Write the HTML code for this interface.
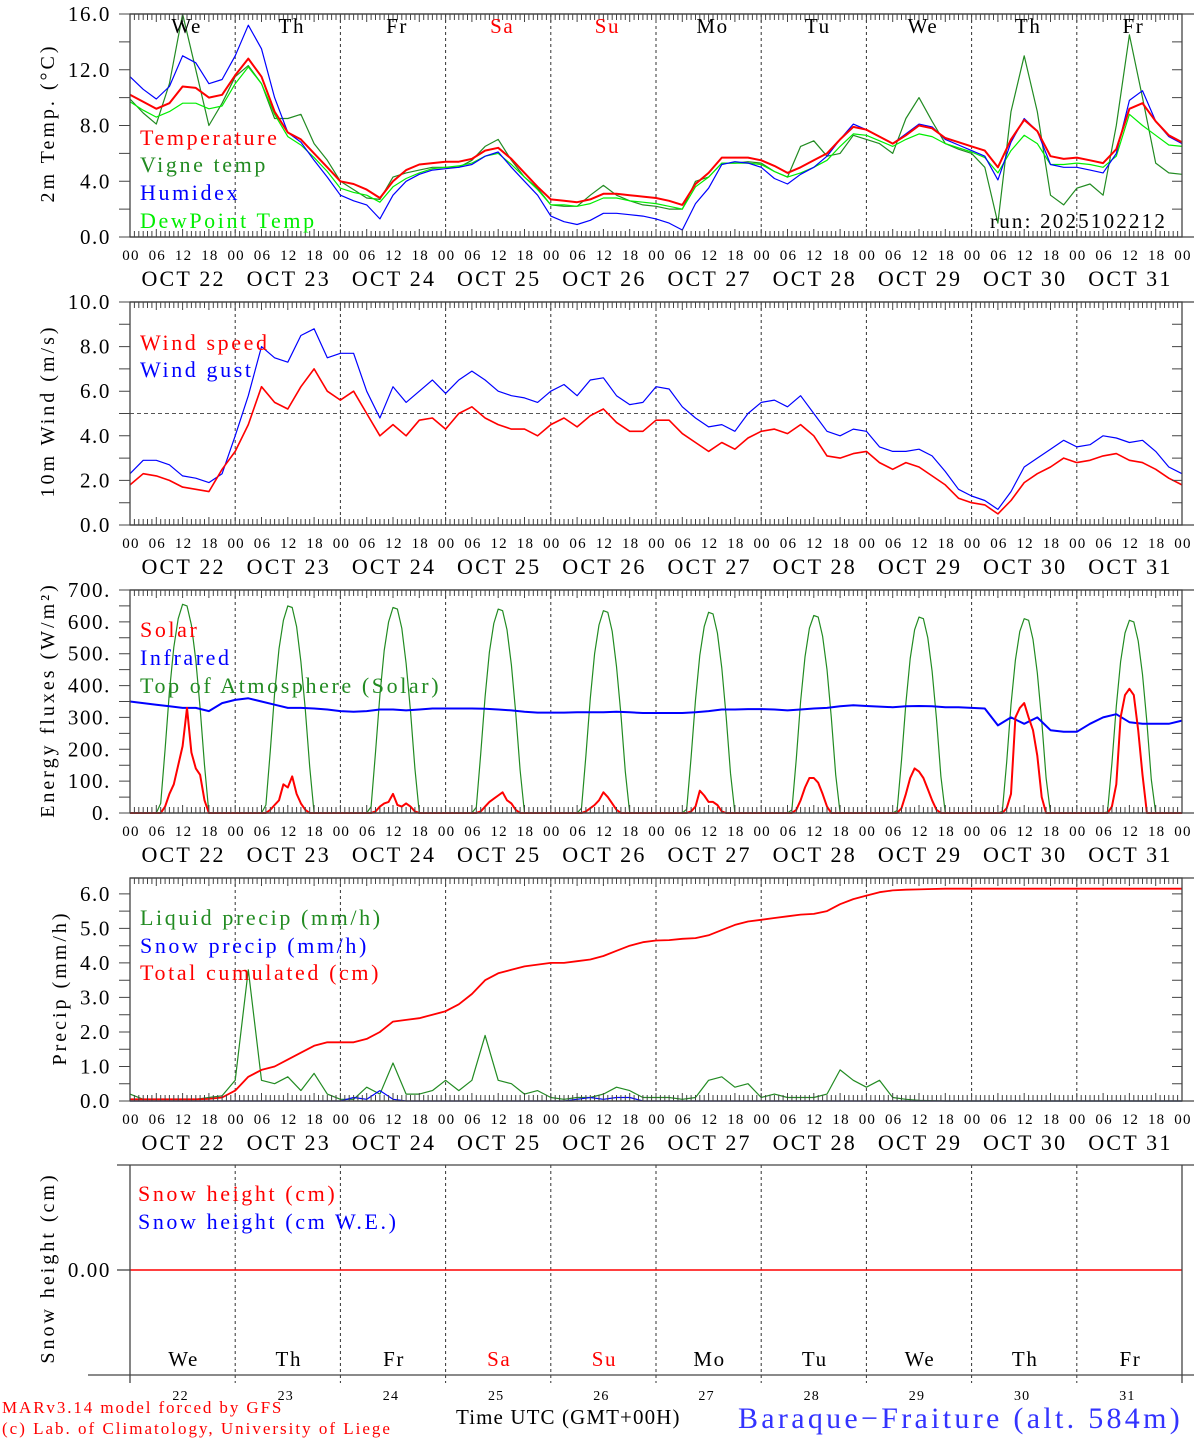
<!DOCTYPE html>
<html><head><meta charset="utf-8">
<style>
html,body{margin:0;padding:0;background:#fff;}
svg{display:block;font-family:"Liberation Serif","DejaVu Serif",serif;}
.lg{letter-spacing:2.6px;font-size:22px;}
.yt{letter-spacing:3px;font-size:20px;}
.tk{letter-spacing:1.6px;font-size:21px;}
.hr{letter-spacing:1.2px;}
.dt{letter-spacing:2.2px;font-size:22px;}
</style></head>
<body>
<svg id="chart" width="1194" height="1440" viewBox="0 0 1194 1440" xmlns="http://www.w3.org/2000/svg">
<g id="layer-grid"></g>
<g id="layer-data"></g>
<g id="layer-axes"></g>
<g id="layer-text">
  <text class="lg" x="140" y="145" fill="#ff0000">Temperature</text>
  <text class="lg" x="140" y="172" fill="#228b22">Vigne temp</text>
  <text class="lg" x="140" y="200" fill="#0000ff">Humidex</text>
  <text class="lg" x="140" y="228" fill="#00ee00">DewPoint Temp</text>
  <text x="990" y="228" font-size="21" fill="#000" style="letter-spacing:2.2px">run: 2025102212</text>
  <text class="lg" x="140" y="350" fill="#ff0000">Wind speed</text>
  <text class="lg" x="140" y="377" fill="#0000ff">Wind gust</text>
  <text class="lg" x="140" y="637" fill="#ff0000">Solar</text>
  <text class="lg" x="140" y="665" fill="#0000ff">Infrared</text>
  <text class="lg" x="140" y="693" fill="#228b22">Top of Atmosphere (Solar)</text>
  <text class="lg" x="140" y="925" fill="#228b22">Liquid precip (mm/h)</text>
  <text class="lg" x="140" y="953" fill="#0000ff">Snow precip (mm/h)</text>
  <text class="lg" x="140" y="980" fill="#ff0000">Total cumulated (cm)</text>
  <text class="lg" x="138" y="1201" fill="#ff0000">Snow height (cm)</text>
  <text class="lg" x="138" y="1229" fill="#0000ff">Snow height (cm W.E.)</text>
  <text class="yt" transform="translate(54,123) rotate(-90)" text-anchor="middle">2m Temp. (°C)</text>
  <text class="yt" transform="translate(54,411) rotate(-90)" text-anchor="middle">10m Wind (m/s)</text>
  <text class="yt" transform="translate(54,700) rotate(-90)" text-anchor="middle">Energy fluxes (W/m²)</text>
  <text class="yt" transform="translate(66,988) rotate(-90)" text-anchor="middle">Precip (mm/h)</text>
  <text class="yt" transform="translate(54,1268) rotate(-90)" text-anchor="middle">Snow height (cm)</text>
  <text x="2" y="1413" font-size="17" fill="#ff0000" style="letter-spacing:1.9px">MARv3.14 model forced by GFS</text>
  <text x="2" y="1434" font-size="17" fill="#ff0000" style="letter-spacing:2px">(c) Lab. of Climatology, University of Liege</text>
  <text x="456" y="1424" font-size="21" fill="#000" style="letter-spacing:1.1px">Time UTC (GMT+00H)</text>
  <text x="738" y="1428" font-size="30" fill="#3333ff" style="letter-spacing:3.3px">Baraque−Fraiture (alt. 584m)</text>
</g>
<script>
// ---- data (3-hourly from Oct 22 00 UTC, 81 points) ----
const dayNames = ["We","Th","Fr","Sa","Su","Mo","Tu","We","Th","Fr"];
const dayNums = ["22","23","24","25","26","27","28","29","30","31"];
const dateLabels = ["OCT 22","OCT 23","OCT 24","OCT 25","OCT 26","OCT 27","OCT 28","OCT 29","OCT 30","OCT 31"];
const hourLabels = ["00","06","12","18"];
const tempTicks = [0,4,8,12,16];
const windTicks = [0,2,4,6,8,10];
const fluxTicks = [0,100,200,300,400,500,600,700];
const precipTicks = [0,1,2,3,4,5,6];

const temperature = [10.2,9.7,9.2,9.6,10.8,10.7,10.0,10.2, 11.6,12.8,11.5,9.0,7.5,7.0,6.0,5.0, 4.0,3.8,3.4,2.8,4.0,4.8,5.2,5.3, 5.4,5.4,5.6,6.2,6.4,5.6,4.6,3.6, 2.7,2.6,2.5,2.7,3.1,3.1,3.0,2.9, 2.8,2.6,2.3,3.8,4.6,5.7,5.7,5.7, 5.5,5.1,4.6,5.0,5.5,6.0,7.0,7.9, 7.7,7.2,6.7,7.3,8.0,7.8,7.1,6.8, 6.5,6.2,5.0,7.0,8.4,7.6,5.8,5.6, 5.7,5.5,5.3,6.3,9.2,9.6,8.3,7.3,6.8];
const humidex = [11.5,10.6,9.9,10.8,13.0,12.5,11.0,11.3, 13.0,15.2,13.5,10.0,7.5,6.8,5.5,4.3, 3.0,2.6,2.3,1.3,3.0,4.0,4.5,4.8, 4.9,5.0,5.2,5.8,6.1,5.0,4.0,3.0, 1.5,1.1,0.9,1.2,1.7,1.7,1.6,1.5, 1.3,1.0,0.5,2.4,3.5,5.2,5.4,5.3, 5.0,4.2,3.8,4.5,5.0,5.8,7.0,8.1, 7.7,7.2,6.7,7.4,8.1,7.9,7.0,6.6, 6.2,5.8,4.1,6.8,8.5,7.6,5.2,5.0, 5.0,4.8,4.6,6.0,9.8,10.5,8.3,7.2,6.7];
const vigne = [9.9,8.9,8.1,11.0,16.0,12.0,8.0,9.6, 11.5,12.3,11.0,8.5,8.5,8.8,6.7,5.5, 4.0,3.4,2.8,2.7,4.3,4.6,4.8,5.0, 5.0,5.0,5.5,6.5,7.0,5.5,4.3,3.5, 2.3,2.2,2.2,3.0,3.7,3.0,2.6,2.3, 2.2,2.0,2.0,4.0,4.3,5.3,5.3,5.4, 5.3,4.7,4.3,6.5,6.9,5.8,6.0,7.3, 7.0,6.7,6.0,8.5,10.0,8.3,6.7,6.3, 6.0,5.0,1.0,9.0,13.0,9.0,3.0,2.3, 3.5,3.8,3.0,8.0,14.5,10.0,5.3,4.6,4.5];
const dewpoint = [9.7,9.1,8.6,9.0,9.6,9.6,9.2,9.4, 11.0,12.2,11.0,8.8,7.2,6.6,5.7,4.7, 3.5,3.2,3.0,2.5,3.6,4.2,4.6,4.9, 5.0,5.1,5.3,5.8,6.0,5.2,4.3,3.4, 2.3,2.3,2.2,2.4,2.8,2.8,2.6,2.5, 2.4,2.2,2.0,3.6,4.3,5.3,5.3,5.3, 5.2,4.7,4.3,4.6,5.0,5.5,6.5,7.4, 7.3,6.9,6.5,7.0,7.4,7.2,6.7,6.4, 6.1,5.7,4.6,6.2,7.3,6.7,5.2,5.2, 5.3,5.2,5.0,5.8,8.8,8.0,7.3,6.6,6.5];

const windSpeed = [1.8,2.3,2.2,2.0,1.7,1.6,1.5,2.5, 3.3,4.5,6.2,5.5,5.2,6.2,7.0,6.0, 5.6,6.0,5.0,4.0,4.5,4.0,4.7,4.8, 4.3,5.0,5.3,4.8,4.5,4.3,4.3,4.0, 4.5,4.8,4.4,4.9,5.2,4.6,4.2,4.2, 4.7,4.7,4.1,3.7,3.3,3.7,3.4,3.9, 4.2,4.3,4.1,4.5,4.0,3.1,3.0,3.2, 3.3,2.8,2.5,2.8,2.6,2.2,1.8,1.2, 1.0,0.9,0.5,1.1,1.9,2.3,2.6,3.0, 2.8,2.9,3.1,3.2,2.9,2.8,2.5,2.1,1.8];
const windGust = [2.3,2.9,2.9,2.7,2.2,2.1,1.9,2.3, 4.0,5.8,8.0,7.5,7.3,8.5,8.8,7.5, 7.7,7.7,6.0,4.8,6.2,5.5,6.0,6.5, 5.9,6.5,6.9,6.5,6.0,5.8,5.7,5.5, 6.0,6.3,5.8,6.5,6.6,5.8,5.4,5.5, 6.2,6.1,5.3,4.8,4.4,4.5,4.2,5.0, 5.5,5.6,5.3,5.8,5.0,4.2,4.0,4.3, 4.2,3.5,3.3,3.3,3.4,3.1,2.4,1.6, 1.3,1.1,0.7,1.5,2.6,3.0,3.4,3.8, 3.5,3.6,4.0,3.9,3.7,3.8,3.3,2.6,2.3];
const windRef = 5.0;

const infrared = [350,345,340,335,330,330,320,345, 355,360,350,340,330,330,328,325, 320,318,320,325,325,322,325,328, 328,328,328,327,325,322,318,315, 315,315,316,316,316,318,316,314, 314,314,314,316,320,325,325,326, 326,325,322,325,328,330,335,338, 336,334,332,335,336,335,332,332, 330,328,275,300,280,300,260,255, 255,280,300,310,285,280,280,280,290];
const daylightHours = [6,7,8,9,10,11,12,13,14,15,16,17,18];
const toa = [
 [0,30,200,380,520,610,655,650,590,480,330,150,0],
 [0,25,195,375,515,605,650,645,585,475,325,145,0],
 [0,20,190,370,510,600,645,640,580,470,320,140,0],
 [0,18,185,365,505,595,640,635,575,465,315,135,0],
 [0,15,180,360,500,590,635,630,570,460,310,130,0],
 [0,12,175,355,495,585,630,625,565,455,305,125,0],
 [0,10,170,350,490,580,620,615,555,450,300,120,0],
 [0,8,165,345,485,575,615,610,550,445,295,115,0],
 [0,5,160,340,480,570,610,605,545,440,290,110,0],
 [0,3,155,335,475,565,605,600,540,435,285,105,0]];
const solar = [
 [0,0,20,60,90,150,210,330,190,140,120,40,0],
 [0,0,10,25,40,90,80,115,60,30,10,0,0],
 [0,0,5,20,30,35,60,25,20,30,20,5,0],
 [0,0,5,20,35,45,55,65,40,30,10,0,0],
 [0,0,5,15,25,40,65,50,30,10,0,0,0],
 [0,0,5,20,70,55,35,35,25,5,0,0,0],
 [0,0,10,40,80,110,110,95,60,20,0,0,0],
 [0,0,15,60,110,140,130,110,75,40,10,0,0],
 [0,0,15,60,300,330,345,300,260,180,50,0,0],
 [0,0,20,90,300,370,390,370,260,120,0,0,0]];

const liquidPrecip = [0.2,0.05,0.05,0.05,0.05,0.05,0.1,0.15, 0.6,3.8,0.6,0.5,0.7,0.3,0.8,0.2, 0.05,0.05,0.4,0.2,1.1,0.2,0.2,0.3, 0.6,0.3,0.6,1.9,0.6,0.5,0.2,0.3, 0.1,0.05,0.1,0.1,0.2,0.4,0.3,0.1, 0.1,0.1,0.05,0.1,0.6,0.7,0.4,0.5, 0.1,0.2,0.1,0.1,0.1,0.2,0.9,0.6, 0.4,0.6,0.1,0.05,0.02,0.01,0,0, 0,0,0,0,0,0,0,0, 0,0,0,0,0,0,0,0,0];
const snowPrecip = [0,0,0,0,0,0,0,0, 0,0,0,0,0,0,0,0, 0,0.1,0.05,0.3,0.05,0,0,0, 0,0,0,0,0,0,0,0, 0,0,0.05,0.1,0.05,0.1,0.1,0, 0,0,0,0,0,0,0,0, 0,0,0,0,0,0,0,0, 0,0,0,0,0,0,0,0, 0,0,0,0,0,0,0,0, 0,0,0,0,0,0,0,0,0];
const cumPrecip = [0.05,0.05,0.05,0.05,0.05,0.05,0.06,0.1, 0.3,0.7,0.9,1.0,1.2,1.4,1.6,1.7, 1.7,1.7,1.8,2.0,2.3,2.35,2.4,2.5, 2.6,2.8,3.1,3.5,3.7,3.8,3.9,3.95, 4.0,4.0,4.05,4.1,4.2,4.35,4.5,4.6, 4.65,4.66,4.7,4.72,4.8,4.95,5.1,5.2, 5.25,5.3,5.35,5.4,5.42,5.5,5.7,5.85, 5.95,6.05,6.1,6.12,6.13,6.14,6.15,6.15, 6.15,6.15,6.15,6.15,6.15,6.15,6.15,6.15, 6.15,6.15,6.15,6.15,6.15,6.15,6.15,6.15,6.15];
const snowHeight = [0,0];

// ---- geometry ----
const NS="http://www.w3.org/2000/svg";
const X0=130, X1=1182, HOURS=240;
const gGrid=document.getElementById('layer-grid');
const gData=document.getElementById('layer-data');
const gAxes=document.getElementById('layer-axes');
function xh(h){return X0+(X1-X0)*h/HOURS;}
function mk(tag,attrs,parent){const e=document.createElementNS(NS,tag);for(const k in attrs)e.setAttribute(k,attrs[k]);parent.appendChild(e);return e;}
function yScale(p){return v=>p.bottom-(v-p.min)/(p.max-p.min)*(p.bottom-p.top);}

const panels=[
 {id:'temp',top:14,bottom:237,min:0,max:16,ticks:tempTicks,minor:2,fmt:v=>v.toFixed(1)},
 {id:'wind',top:302,bottom:525,min:0,max:10,ticks:windTicks,minor:1,fmt:v=>v.toFixed(1)},
 {id:'flux',top:590,bottom:813,min:0,max:700,ticks:fluxTicks,minor:50,fmt:v=>v+'.'},
 {id:'precip',top:878,bottom:1101,min:0,max:6.46,ticks:precipTicks,minor:0.5,fmt:v=>v.toFixed(1)}
];

function frame(p){
  const y=yScale(p);
  for(let d=1;d<10;d++){
    const l=mk('line',{x1:xh(d*24),x2:xh(d*24),y1:p.top,y2:p.bottom,stroke:'#333','stroke-width':1,'stroke-dasharray':'3,3'},gGrid);
    
    
  }
  mk('rect',{x:X0,y:p.top,width:X1-X0,height:p.bottom-p.top,fill:'none',stroke:'#444','stroke-width':1.3},gAxes);
  mk('line',{x1:X0,x2:1194,y1:p.top,y2:p.top,stroke:'#444','stroke-width':1.3},gAxes);
  mk('line',{x1:X0,x2:1194,y1:p.bottom,y2:p.bottom,stroke:'#444','stroke-width':1.3},gAxes);
  let path='';
  for(let h=0;h<=HOURS;h++){
    const len=(h%6===0)?8:6;const x=xh(h).toFixed(1);
    path+=`M${x},${p.top}v${len}M${x},${p.bottom}v${-len}`;
  }
  for(let v=p.min;v<=p.max+1e-6;v+=p.minor){
    const yy=y(v).toFixed(1);
    path+=`M${X0-11},${yy}h11M${X1},${yy}h-10`;
  }
  mk('path',{d:path,stroke:'#444','stroke-width':1,fill:'none'},gAxes);
  p.ticks.forEach(v=>{
    const t=mk('text',{x:111,y:y(v)+7,'text-anchor':'end','class':'tk'},gAxes);
    t.textContent=p.fmt(v);
    
    
  });
  for(let d=0;d<=10;d++){
    hourLabels.forEach((lab,i)=>{
      if(d===10&&i>0)return;
      const t=mk('text',{x:xh(d*24+i*6)+1,y:p.bottom+23,'text-anchor':'middle','font-size':15,'class':'hr'},gAxes);
      t.textContent=lab;
      
      
    });
    if(d<10){
      const t=mk('text',{x:xh(d*24+12)+1,y:p.bottom+49,'text-anchor':'middle','class':'dt'},gAxes);
      t.textContent=dateLabels[d];
      
      
    }
  }
  return y;
}
function line(arr,y,color,w,name,step){
  const s=step||3;
  const d=arr.map((v,i)=>(i?'L':'M')+xh(i*s).toFixed(1)+','+y(v).toFixed(1)).join('');
  const e=mk('path',{d:d,fill:'none',stroke:color,'stroke-width':w,'stroke-linejoin':'round'},gData);
  
  
}
function daily(arr2,y,color,w,name){
  let d=`M${xh(0)},${y(0)}`;
  arr2.forEach((vals,day)=>{
    daylightHours.forEach((h,i)=>{d+=`L${xh(day*24+h).toFixed(1)},${y(vals[i]).toFixed(1)}`;});
  });
  d+=`L${xh(HOURS)},${y(0)}`;
  const e=mk('path',{d:d,fill:'none',stroke:color,'stroke-width':w,'stroke-linejoin':'round'},gData);
  
  
}

let y1=frame(panels[0]);
line(vigne,y1,'#228b22',1.2,'vigne-temp-line');
line(dewpoint,y1,'#00ee00',1.2,'dewpoint-line');
line(humidex,y1,'#0000ff',1.2,'humidex-line');
line(temperature,y1,'#ff0000',2,'temperature-line');
dayNames.forEach((n,d)=>{
  const t=mk('text',{x:xh(d*24+12)+4,y:33,'text-anchor':'middle','class':'tk',fill:(n==='Sa'||n==='Su')?'#ff0000':'#000'},gAxes);
  t.textContent=n;
  
  
});
let y2=frame(panels[1]);
let ref=mk('line',{x1:X0,x2:X1,y1:y2(windRef),y2:y2(windRef),stroke:'#555','stroke-width':1,'stroke-dasharray':'4,3'},gGrid);


line(windGust,y2,'#0000ff',1.2,'wind-gust-line');
line(windSpeed,y2,'#ff0000',1.6,'wind-speed-line');
let y3=frame(panels[2]);
daily(toa,y3,'#228b22',1.2,'toa-solar-line');
line(infrared,y3,'#0000ff',2,'infrared-line');
daily(solar,y3,'#ff0000',2,'solar-line');
let y4=frame(panels[3]);
line(liquidPrecip,y4,'#228b22',1.2,'liquid-precip-line');
line(snowPrecip,y4,'#0000ff',1.2,'snow-precip-line');
line(cumPrecip,y4,'#ff0000',1.8,'cumulated-precip-line');
const p5={top:1165,bottom:1375,min:-1,max:1};
const y5=yScale(p5);
for(let d=1;d<10;d++){
  const l=mk('line',{x1:xh(d*24),x2:xh(d*24),y1:p5.top,y2:p5.bottom+8,stroke:'#333','stroke-width':1,'stroke-dasharray':'3,3'},gGrid);
  
  
}
mk('line',{x1:117,x2:1194,y1:p5.top,y2:p5.top,stroke:'#444','stroke-width':1.3},gAxes);
mk('line',{x1:88,x2:1194,y1:p5.bottom,y2:p5.bottom,stroke:'#444','stroke-width':1.3},gAxes);
mk('line',{x1:X0,x2:X0,y1:p5.top,y2:p5.bottom+8,stroke:'#444','stroke-width':1.3},gAxes);
mk('line',{x1:X1,x2:X1,y1:p5.top,y2:p5.bottom+8,stroke:'#444','stroke-width':1.3},gAxes);
mk('line',{x1:117,x2:X0,y1:y5(0),y2:y5(0),stroke:'#444','stroke-width':1.3},gAxes);
let t0=mk('text',{x:111,y:y5(0)+7,'text-anchor':'end','class':'tk'},gAxes);
t0.textContent='0.00';


{
  const e=mk('line',{x1:X0,x2:X1,y1:y5(snowHeight[0]),y2:y5(snowHeight[1]),stroke:'#ff0000','stroke-width':1.6},gData);
  
  
}
dayNames.forEach((n,d)=>{
  const t=mk('text',{x:xh(d*24+12)+1,y:1366,'text-anchor':'middle','class':'tk',fill:(n==='Sa'||n==='Su')?'#ff0000':'#000'},gAxes);
  t.textContent=n;
  
  
  const u=mk('text',{x:xh(d*24+12)-2,y:1400,'text-anchor':'middle','font-size':14,'class':'hr'},gAxes);
  u.textContent=dayNums[d];
  
  
});
</script>
</svg>
</body></html>
